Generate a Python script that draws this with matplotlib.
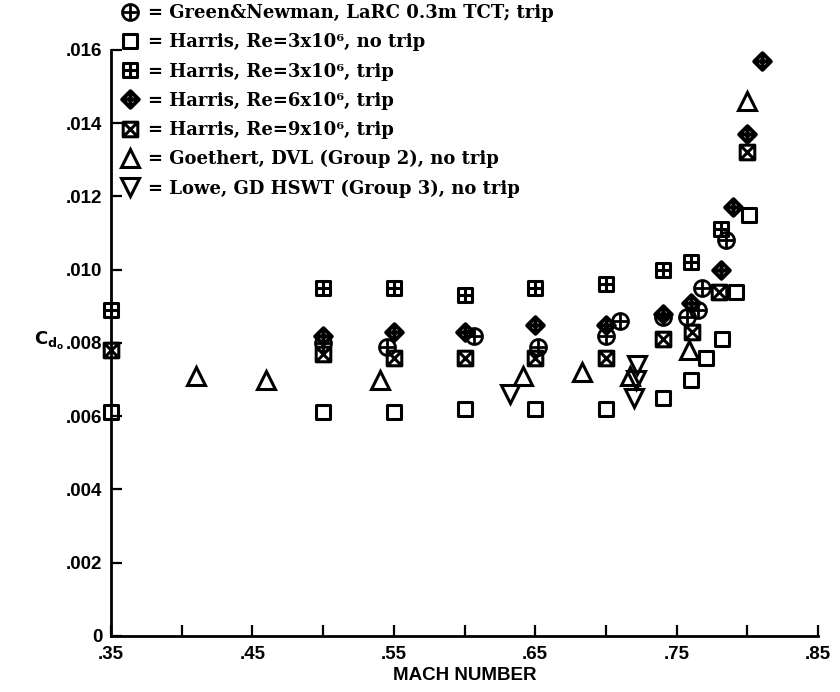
import matplotlib
matplotlib.use("Agg")
import matplotlib.pyplot as plt
from matplotlib.path import Path
from matplotlib.font_manager import FontProperties

# Mach number / Cd0 values, one pair of lists per data set
gn_mach = [0.50, 0.545, 0.607, 0.652, 0.70, 0.71, 0.74, 0.757, 0.765, 0.768, 0.785]
gn_cd   = [0.0080, 0.0079, 0.0082, 0.0079, 0.0082, 0.0086, 0.0087, 0.0087, 0.0089, 0.0095, 0.0108]

h3n_mach = [0.35, 0.50, 0.55, 0.60, 0.65, 0.70, 0.74, 0.76, 0.771, 0.782, 0.792, 0.801]
h3n_cd   = [0.0061, 0.0061, 0.0061, 0.0062, 0.0062, 0.0062, 0.0065, 0.0070, 0.0076, 0.0081, 0.0094, 0.0115]

h3t_mach = [0.35, 0.50, 0.55, 0.60, 0.65, 0.70, 0.74, 0.76, 0.781]
h3t_cd   = [0.0089, 0.0095, 0.0095, 0.0093, 0.0095, 0.0096, 0.0100, 0.0102, 0.0111]

h6t_mach = [0.50, 0.55, 0.60, 0.65, 0.70, 0.74, 0.76, 0.781, 0.790, 0.800, 0.810]
h6t_cd   = [0.0082, 0.0083, 0.0083, 0.0085, 0.0085, 0.0088, 0.0091, 0.0100, 0.0117, 0.0137, 0.0157]

h9t_mach = [0.35, 0.50, 0.55, 0.60, 0.65, 0.70, 0.74, 0.761, 0.78, 0.80]
h9t_cd   = [0.0078, 0.0077, 0.0076, 0.0076, 0.0076, 0.0076, 0.0081, 0.0083, 0.0094, 0.0132]

goe_mach = [0.41, 0.46, 0.540, 0.641, 0.683, 0.717, 0.759, 0.800]
goe_cd   = [0.0071, 0.0070, 0.0070, 0.0071, 0.0072, 0.0071, 0.0078, 0.0146]

lowe_mach = [0.632, 0.720, 0.721, 0.722]
lowe_cd   = [0.0066, 0.0065, 0.0070, 0.0074]

labels = [
    "= Green&Newman, LaRC 0.3m TCT; trip",
    "= Harris, Re=3x10\u2076, no trip",
    "= Harris, Re=3x10\u2076, trip",
    "= Harris, Re=6x10\u2076, trip",
    "= Harris, Re=9x10\u2076, trip",
    "= Goethert, DVL (Group 2), no trip",
    "= Lowe, GD HSWT (Group 3), no trip",
]

# --- custom marker shapes ---
M, L, C = Path.MOVETO, Path.LINETO, Path.CLOSEPOLY
plus = Path([(-1, 0), (1, 0), (0, -1), (0, 1)], [M, L, M, L])
xcross = Path([(-1, -1), (1, 1), (-1, 1), (1, -1)], [M, L, M, L])
square = Path([(-1, -1), (1, -1), (1, 1), (-1, 1), (-1, -1)], [M, L, L, L, C])
diamond = Path([(0, -1), (1, 0), (0, 1), (-1, 0), (0, -1)], [M, L, L, L, C])
circle_plus = Path.make_compound_path(Path.unit_circle(), plus)
square_plus = Path.make_compound_path(square, plus)
square_x = Path.make_compound_path(square, xcross)
diamond_plus = Path.make_compound_path(diamond, plus)

fig = plt.figure(figsize=(8.4, 6.92), dpi=100)
ax = fig.add_axes([0.132, 0.081, 0.842, 0.847])

common = dict(linestyle="none", color="black", mfc="none", clip_on=False, zorder=3)
handles = []
handles += ax.plot(gn_mach, gn_cd, marker=circle_plus, ms=11.5, mew=2.0, **common)
handles += ax.plot(h3n_mach, h3n_cd, marker=square, ms=10.5, mew=2.2, **common)
handles += ax.plot(h3t_mach, h3t_cd, marker=square_plus, ms=10.5, mew=2.2, **common)
handles += ax.plot(h6t_mach, h6t_cd, marker=diamond_plus, ms=12, mew=2.8, **common)
handles += ax.plot(h9t_mach, h9t_cd, marker=square_x, ms=10.5, mew=2.2, **common)
handles += ax.plot(goe_mach, goe_cd, marker="^", ms=12.5, mew=2.2, **common)
handles += ax.plot(lowe_mach, lowe_cd, marker="v", ms=12.5, mew=2.2, **common)

ax.set_xlim(0.35, 0.85)
ax.set_ylim(0, 0.016)

tick_font = FontProperties(family="Liberation Sans", weight="bold", size=13.5)
xt = [0.35, 0.45, 0.55, 0.65, 0.75, 0.85]
ax.set_xticks(xt)
ax.set_xticklabels([f"{v:.2f}".lstrip("0") for v in xt], fontproperties=tick_font)
ax.set_xticks([0.40, 0.50, 0.60, 0.70, 0.80], minor=True)
yt = [0, 0.002, 0.004, 0.006, 0.008, 0.010, 0.012, 0.014, 0.016]
ax.set_yticks(yt)
ax.set_yticklabels(["0"] + [f"{v:.3f}".lstrip("0") for v in yt[1:]], fontproperties=tick_font)

ax.tick_params(which="both", direction="in", length=8, width=1.6)
ax.tick_params(axis="y", which="both", pad=6)
ax.tick_params(axis="x", which="both", pad=7)
for side in ("top", "right"):
    ax.spines[side].set_visible(False)
for side in ("left", "bottom"):
    ax.spines[side].set_linewidth(2.0)

ax.set_xlabel("MACH NUMBER", fontproperties=FontProperties(family="Liberation Sans", weight="bold", size=13.5),
              labelpad=3)
fig.text(0.040, 0.508, r"$\mathbf{C_{d_o}}$", fontsize=13, ha="left", va="center")

leg = ax.legend(handles, labels, loc="upper left", bbox_to_anchor=(0.144, 0.994),
                bbox_transform=fig.transFigure, frameon=False,
                prop=FontProperties(family="DejaVu Serif", weight="bold", size=13),
                handlelength=1.0, handletextpad=0.5, labelspacing=0.62,
                borderpad=0, borderaxespad=0, numpoints=1)

plt.savefig("out.png", dpi=100)
